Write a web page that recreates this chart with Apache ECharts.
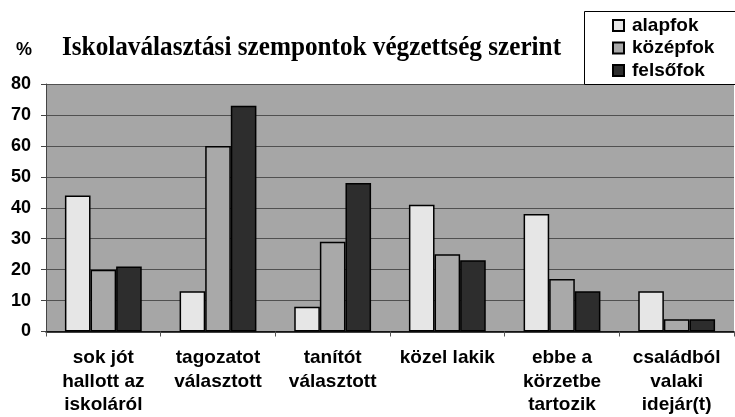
<!DOCTYPE html>
<html>
<head>
<meta charset="utf-8">
<script src="https://cdn.jsdelivr.net/npm/echarts@6/dist/echarts.min.js"></script>
<style>
  html, body { margin: 0; padding: 0; background: #fff; }
  #chart { width: 735px; height: 417px; }
</style>
</head>
<body>
<div id="chart"></div>
<script>
// Chart data
const categories = [
    'sok jót\nhallott az\niskoláról',
    'tagozatot\nválasztott',
    'tanítót\nválasztott',
    'közel lakik',
    'ebbe a\nkörzetbe\ntartozik',
    'családból\nvalaki\nidejár(t)'
];
const seriesNames = ['alapfok', 'középfok', 'felsőfok'];
const alapfok = [44, 13, 8, 41, 38, 13];
const kozepfok = [20, 60, 29, 25, 17, 4];
const felsofok = [21, 73, 48, 23, 13, 4];
const yTicks = [0, 10, 20, 30, 40, 50, 60, 70, 80];
const titleText = 'Iskolaválasztási szempontok végzettség szerint';

const barColors = ['#e6e6e6', '#a9a9a9', '#2d2d2d'];
const values = [alapfok, kozepfok, felsofok];

const chart = echarts.init(document.getElementById('chart'));

const boldSans = {
    fontFamily: 'Liberation Sans, Arial, sans-serif',
    fontWeight: 'bold',
    color: '#000'
};

const option = {
    animation: false,
    backgroundColor: '#fff',
    legend: {
        orient: 'vertical',
        left: 612,
        top: 16,
        z: 10,
        icon: 'rect',
        itemWidth: 11,
        itemHeight: 11,
        itemGap: 3.5,
        padding: 0,
        textStyle: Object.assign({ fontSize: 19, padding: [0, 0, 0, 3] }, boldSans),
        data: seriesNames
    },
    grid: {
        left: 46,
        right: 1,
        top: 84,
        bottom: 85,
        show: true,
        backgroundColor: '#a6a6a6',
        borderWidth: 0
    },
    xAxis: {
        type: 'category',
        data: categories,
        axisLine: { lineStyle: { color: '#000', width: 1.5 } },
        axisTick: { show: true, length: 5, lineStyle: { color: '#555' } },
        axisLabel: Object.assign({
            fontSize: 19,
            lineHeight: 23.5,
            margin: 15,
            interval: 0
        }, boldSans)
    },
    yAxis: {
        type: 'value',
        min: 0,
        max: 80,
        interval: 10,
        axisLine: { show: true, lineStyle: { color: '#444' } },
        axisTick: { show: true, length: 5, lineStyle: { color: '#444' } },
        axisLabel: Object.assign({
            fontSize: 18,
            margin: 15,
            formatter: function (v) { return yTicks.indexOf(v) >= 0 ? String(v) : ''; }
        }, boldSans),
        splitLine: { show: true, lineStyle: { color: '#505050', width: 1 } }
    },
    graphic: [{
        // title, slightly condensed like the original
        type: 'text',
        x: 62,
        y: 48,
        scaleX: 0.9,
        style: {
            text: titleText,
            font: 'bold 28px Liberation Serif, Times New Roman, serif',
            fill: '#000',
            verticalAlign: 'middle'
        }
    }, {
        type: 'text',
        x: 16,
        y: 50,
        style: {
            text: '%',
            font: 'bold 18px Liberation Sans, Arial, sans-serif',
            fill: '#000',
            verticalAlign: 'middle'
        }
    }, {
        // legend frame
        type: 'rect',
        z: 5,
        shape: { x: 584.5, y: 11.5, width: 160, height: 73 },
        style: { fill: '#fff', stroke: '#000', lineWidth: 1 }
    }],
    series: seriesNames.map(function (name, i) {
        return {
            name: name,
            type: 'bar',
            data: values[i],
            barGap: '0%',
            barCategoryGap: '33%',
            itemStyle: {
                color: barColors[i],
                borderColor: '#000',
                borderWidth: 1.5
            }
        };
    })
};

chart.setOption(option);
</script>
</body>
</html>
